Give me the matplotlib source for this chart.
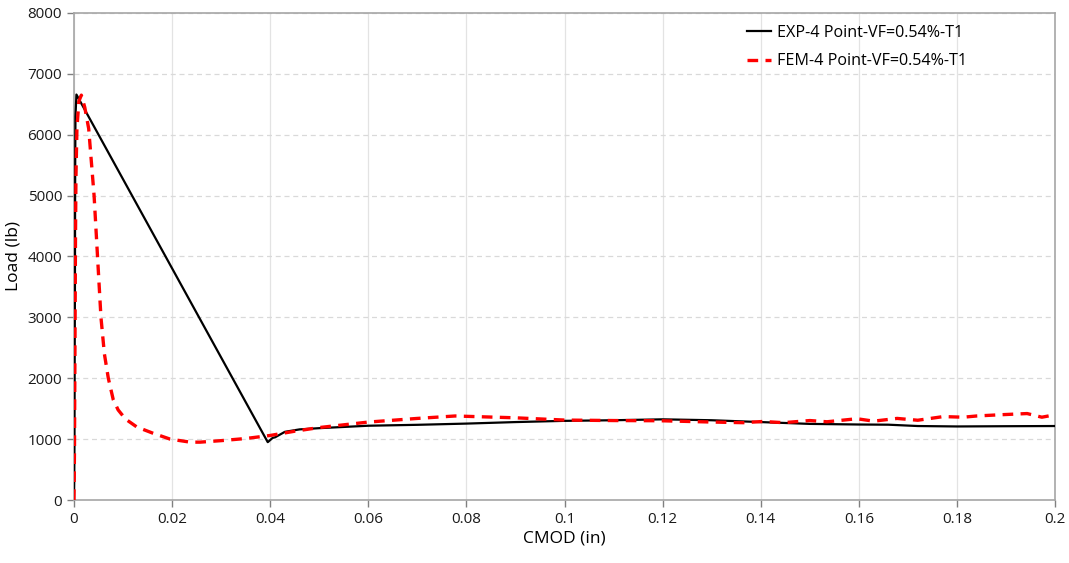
import matplotlib
matplotlib.use("Agg")
import matplotlib.pyplot as plt
from matplotlib.ticker import MultipleLocator

# Experimental CMOD vs load
exp_cmod = [0.0, 0.00005, 0.0001, 0.00012, 0.00015, 0.0002, 0.00022, 0.00025, 0.0003,
            0.0005, 0.0395, 0.0405, 0.041, 0.043, 0.046,
            0.05, 0.06, 0.07, 0.08, 0.09, 0.1, 0.11, 0.12, 0.13, 0.14, 0.15,
            0.16, 0.166, 0.172, 0.18, 0.19, 0.2]
exp_load = [0, 300, 900, 1500, 2500, 3500, 4500, 5500, 6300,
            6660, 950, 1020, 1030, 1120, 1160,
            1180, 1220, 1235, 1255, 1280, 1300, 1310, 1325, 1310, 1280, 1250,
            1240, 1237, 1215, 1208, 1212, 1215]

# Finite element CMOD vs load
fem_cmod = [0.0, 0.0001, 0.0002, 0.0003, 0.0004, 0.0006, 0.001, 0.0015, 0.0022, 0.003,
            0.0041, 0.0048, 0.0055, 0.0062, 0.007, 0.008, 0.009, 0.0105, 0.0128,
            0.016, 0.0196, 0.0237, 0.0257, 0.03, 0.035, 0.04, 0.045, 0.05, 0.06,
            0.07, 0.0777, 0.09, 0.1, 0.11, 0.1195, 0.1297, 0.1364, 0.1405, 0.1446,
            0.150, 0.1535, 0.1596, 0.163, 0.1678, 0.172, 0.1772, 0.1813, 0.184,
            0.1888, 0.1943, 0.1973, 0.2]
fem_load = [0, 800, 2500, 4200, 5300, 6100, 6550, 6650, 6450, 6100,
            5000, 4000, 3000, 2400, 2000, 1650, 1480, 1330, 1200,
            1100, 1000, 950, 950, 975, 1010, 1060, 1130, 1190, 1280,
            1340, 1380, 1350, 1313, 1305, 1302, 1281, 1270, 1290, 1270,
            1305, 1285, 1335, 1295, 1340, 1310, 1370, 1360, 1380,
            1400, 1420, 1360, 1400]

plt.rcParams["font.family"] = ["Open Sans", "DejaVu Sans"]

fig = plt.figure(figsize=(10.69, 5.63), dpi=100)
ax = fig.add_axes([0.0692, 0.1119, 0.9178, 0.8651])

ax.plot(exp_cmod, exp_load, color="black", lw=1.6, label="EXP-4 Point-VF=0.54%-T1", zorder=3)
ax.plot(fem_cmod, fem_load, color="red", lw=2.4, ls=(0, (3.2, 2.2)),
        label="FEM-4 Point-VF=0.54%-T1", zorder=4)

ax.set_xlim(0, 0.2)
ax.set_ylim(0, 8000)
ax.yaxis.set_major_locator(MultipleLocator(1000))
ax.set_xticks([0, 0.02, 0.04, 0.06, 0.08, 0.1, 0.12, 0.14, 0.16, 0.18, 0.2])
ax.set_xticklabels(["0", "0.02", "0.04", "0.06", "0.08", "0.1", "0.12", "0.14",
                    "0.16", "0.18", "0.2"])

ax.grid(axis="x", color="#e3e3e3", lw=0.9, ls="-")
ax.grid(axis="y", color="#d9d9d9", lw=0.9, ls=(0, (4, 3)))
ax.set_axisbelow(True)

for s in ax.spines.values():
    s.set_color("#a6a6a6")
    s.set_linewidth(1.2)

ax.tick_params(axis="both", direction="out", length=5, width=1, color="#808080",
               labelsize=11, labelcolor="#1a1a1a")
ax.set_xlabel("CMOD (in)", fontsize=12.5, labelpad=3)
ax.set_ylabel("Load (lb)", fontsize=12.5, labelpad=4)

leg = ax.legend(loc="upper right", bbox_to_anchor=(0.925, 1.006), frameon=False,
                fontsize=11.6, handlelength=1.5, handletextpad=0.35, labelspacing=0.8)

fig.savefig("out.png", dpi=100)
